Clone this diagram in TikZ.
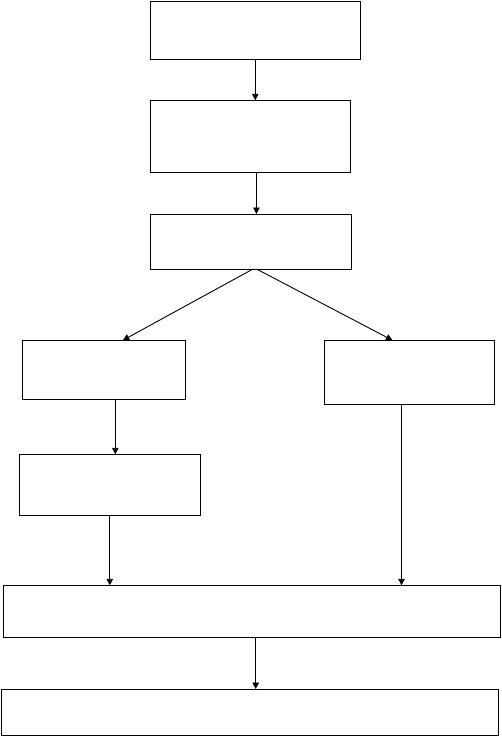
\documentclass[tikz,border=0pt]{standalone}
\usepackage{tikz}
\usetikzlibrary{arrows.meta,positioning,calc}

\begin{document}
\begin{tikzpicture}[
  x=1pt,y=-1pt,
  bx/.style={draw,line width=0.9pt,rectangle,inner sep=0pt,outer sep=0pt},
  ar/.style={line width=0.9pt,-{Triangle[length=6.5pt,width=6.5pt]}}
]
\useasboundingbox (0,0) rectangle (502,737);
\node[bx,minimum width=210pt,minimum height=58.5pt] (top)   at (255.3, 30.2) {};
\node[bx,minimum width=200.7pt,minimum height=72pt] (mid)   at (250.4,136.3) {};
\node[bx,minimum width=201pt,minimum height=55pt]   (split) at (250.5,241.5) {};
\node[bx,minimum width=163pt,minimum height=59pt]   (lt)    at (103.8,369.8) {};
\node[bx,minimum width=170.4pt,minimum height=64pt] (rt)    at (409.5,372.3) {};
\node[bx,minimum width=181pt,minimum height=61pt]   (lb)    at (109.8,484.8) {};
\node[bx,minimum width=497.4pt,minimum height=52pt] (join)  at (252,611.3) {};
\node[bx,minimum width=497.4pt,minimum height=46pt] (fin)   at (250,712) {};
\draw[ar] (top.south) -- (top.south |- mid.north);
\draw[ar] ([xshift=6pt]mid.south) -- ([xshift=6pt]mid.south |- split.north);
\draw[ar] ([xshift=2.5pt]split.south) -- ([xshift=19pt]lt.north);
\draw[ar] ([xshift=6pt]split.south) -- ([xshift=-17pt]rt.north);
\draw[ar] ([xshift=11.5pt]lt.south) -- ([xshift=11.5pt]lt.south |- lb.north);
\draw[ar] ([xshift=-8pt]rt.south) -- ([xshift=-8pt]rt.south |- join.north);
\draw[ar] (lb.south) -- (lb.south |- join.north);
\draw[ar] ([xshift=3.7pt]join.south) -- ([xshift=3.7pt]join.south |- fin.north);
\end{tikzpicture}
\end{document}
